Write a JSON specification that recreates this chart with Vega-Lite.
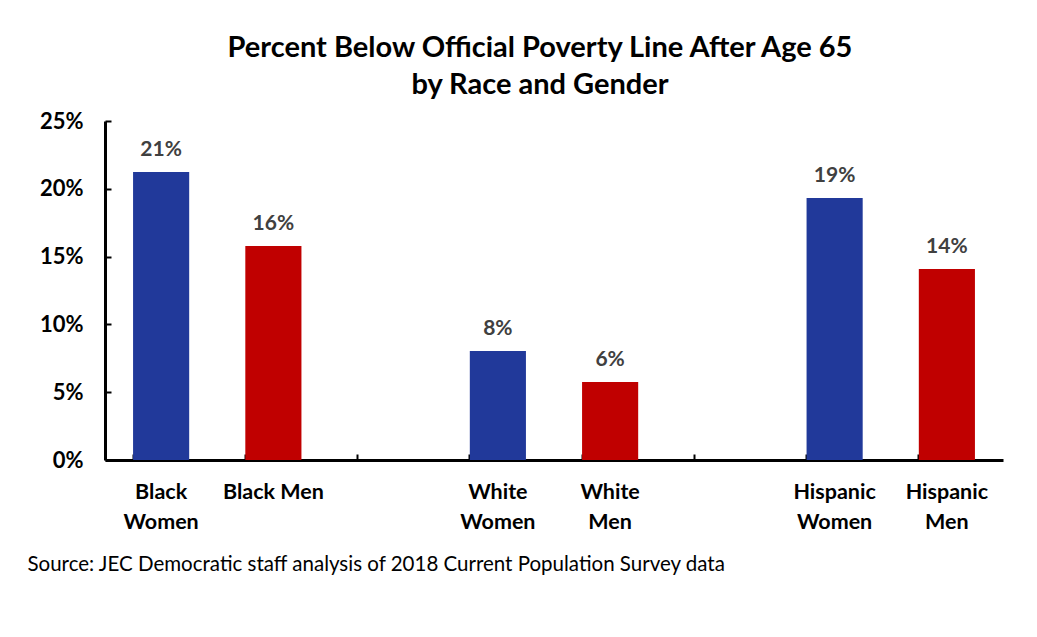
{
  "$schema": "https://vega.github.io/schema/vega-lite/v6.json",
  "width": 898,
  "height": 339,
  "autosize": "none",
  "padding": {"left": 105, "top": 121, "right": 34, "bottom": 177},
  "background": "white",
  "config": {"font": "Lato", "view": {"stroke": null}},
  "title": {
    "text": ["Percent Below Official Poverty Line After Age 65", "by Race and Gender"],
    "fontSize": 29,
    "fontWeight": "bold",
    "lineHeight": 37,
    "color": "#000000",
    "anchor": "middle",
    "frame": "group",
    "dx": -14,
    "offset": 10
  },
  "data": {
    "values": [
      {"group": "Black Women", "gender": "Women", "pct": 0.2124},
      {"group": "Black Men", "gender": "Men", "pct": 0.1578},
      {"group": "White Women", "gender": "Women", "pct": 0.0804},
      {"group": "White Men", "gender": "Men", "pct": 0.0575},
      {"group": "Hispanic Women", "gender": "Women", "pct": 0.1932},
      {"group": "Hispanic Men", "gender": "Men", "pct": 0.1409}
    ]
  },
  "encoding": {
    "x": {
      "field": "group",
      "type": "nominal",
      "sort": null,
      "scale": {
        "domain": ["Black Women", "Black Men", "gap1", "White Women", "White Men", "gap2", "Hispanic Women", "Hispanic Men"],
        "paddingInner": 0.5,
        "paddingOuter": 0.25
      },
      "axis": {
        "title": "Source: JEC Democratic staff analysis of 2018 Current Population Survey data",
        "titleFontSize": 20.5,
        "titleFontWeight": "normal",
        "titleColor": "#000000",
        "titleAnchor": "start",
        "titleAlign": "left",
        "titleX": -78,
        "titleY": 104,
        "titleBaseline": "middle",
        "labelExpr": "indexof(datum.value, 'gap') == 0 ? '' : (datum.value == 'Black Men' ? datum.value : split(datum.value, ' '))",
        "labelAngle": 0,
        "labelFontSize": 21.5,
        "labelFontWeight": "bold",
        "labelColor": "#000000",
        "labelLineHeight": 30,
        "labelBaseline": "top",
        "labelPadding": 27,
        "bandPosition": 0,
        "tickSize": -6,
        "tickWidth": 2,
        "tickColor": "#000000",
        "domainColor": "#000000",
        "domainWidth": 3,
        "grid": false
      }
    },
    "y": {
      "field": "pct",
      "type": "quantitative",
      "scale": {"domain": [0, 0.25]},
      "axis": {
        "title": null,
        "format": ".0%",
        "values": [0, 0.05, 0.1, 0.15, 0.2, 0.25],
        "labelFontSize": 22,
        "labelFontWeight": "bold",
        "labelColor": "#000000",
        "labelPadding": 28,
        "tickSize": -6,
        "tickWidth": 2,
        "tickColor": "#000000",
        "domainColor": "#000000",
        "domainWidth": 3,
        "grid": false
      }
    }
  },
  "layer": [
    {
      "mark": {"type": "bar"},
      "encoding": {
        "color": {
          "field": "gender",
          "type": "nominal",
          "scale": {"domain": ["Women", "Men"], "range": ["#21399A", "#C00000"]},
          "legend": null
        }
      }
    },
    {
      "mark": {"type": "text", "baseline": "bottom", "dy": -12, "fontSize": 21, "fontWeight": "bold", "color": "#404040"},
      "encoding": {
        "text": {"field": "pct", "type": "quantitative", "format": ".0%"}
      }
    }
  ]
}
